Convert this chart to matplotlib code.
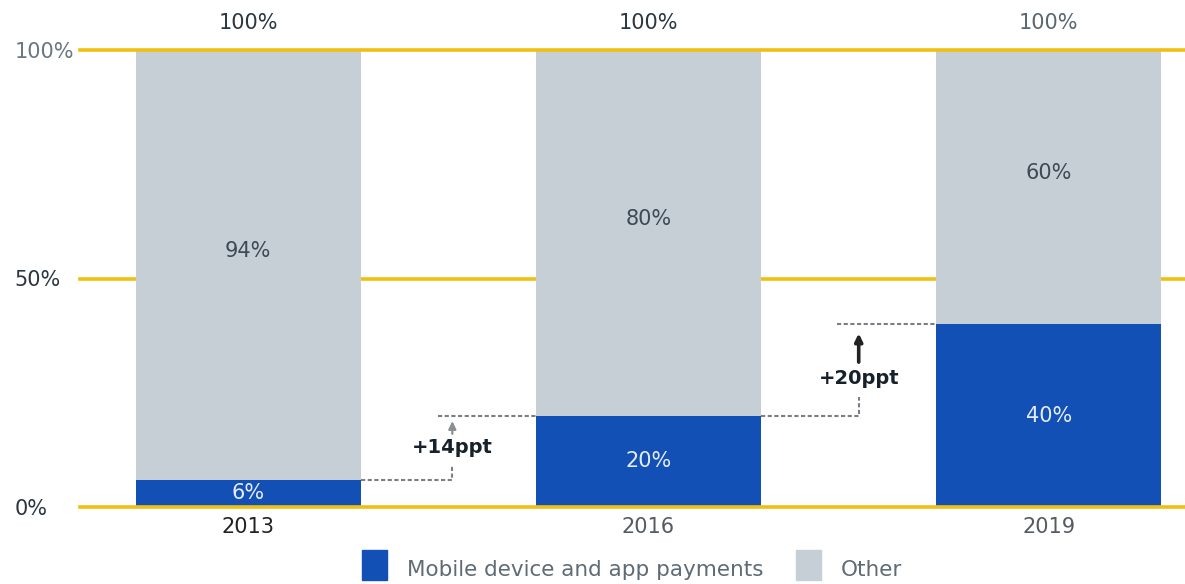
import matplotlib.pyplot as plt

plt.rcParams['font.family'] = ['DejaVu Sans']

years = ["2013", "2016", "2019"]
mobile = [6, 20, 40]
other = [94, 80, 60]
totals = [100, 100, 100]
changes = ["+14ppt", "+20ppt"]
y_ticks = [0, 50, 100]
y_labels = ["0%", "50%", "100%"]

BLUE = "#1250b6"
GREY = "#c6cfd6"
GOLD = "#f0c010"
DARK = "#2b3640"

fig = plt.figure(figsize=(11.85, 5.84), dpi=100)
ax = fig.add_axes([80 / 1185, 1 - 507 / 584, 1 - 80 / 1185, (507 - 50) / 584])

x = list(range(len(years)))
w = 0.5625
ax.bar(x, mobile, width=w, color=BLUE, zorder=2)
ax.bar(x, other, width=w, bottom=mobile, color=GREY, zorder=2)

# gold guide lines; the middle one sits behind the bars
for t in y_ticks:
    ax.axhline(t, color=GOLD, lw=2.6, zorder=1 if t == 50 else 3, clip_on=False)

for i in x:
    ax.text(i, mobile[i] / 2, f"{mobile[i]}%", ha="center", va="center",
            fontsize=15, color="#e6ecf5", zorder=4)
    ax.text(i, mobile[i] + other[i] / 2 + 3, f"{other[i]}%", ha="center", va="center",
            fontsize=15, color="#3d4a56", zorder=4)
    ax.text(i, totals[i] + 6, f"{totals[i]}%", ha="center", va="center",
            fontsize=15, color=DARK if i < 2 else "#5a6670")

# step-up connectors between consecutive bars
arrow_cols = ["#8a8f94", "#222222"]
for k, lab in enumerate(changes):
    lo, hi = mobile[k], mobile[k + 1]
    xs = k + w / 2
    xt = k + 0.51 + 0.015 * k
    ax.plot([xs, xt, xt], [lo, lo, lo + 3 + 1.0 * k], color="#7a7f85", lw=1.5,
            ls=(0, (2, 1.2)), zorder=3)
    ax.plot([xt - 0.035 - 0.02 * k, k + 1 - w / 2], [hi, hi], color="#7a7f85", lw=1.5,
            ls=(0, (2, 1.2)), zorder=3)
    mid = (lo + hi) / 2 - 1.8 * k
    ax.text(xt, mid, lab, ha="center", va="center", fontsize=14,
            fontweight="bold", color="#17212b", zorder=4)
    ax.annotate("", xy=(xt, hi - 1.2 - 0.8 * k), xytext=(xt, mid + 3 + 0.5 * k),
                arrowprops=dict(arrowstyle="-|>,head_length=0.45,head_width=0.22",
                                color=arrow_cols[k], lw=1.6 + 1.0 * k,
                                shrinkA=0, shrinkB=0))

ax.set_xlim(-0.42, 2.34)
ax.set_ylim(0, 100)
ax.set_xticks(x)
ax.set_xticklabels(years, fontsize=15)
for i, lbl in enumerate(ax.get_xticklabels()):
    lbl.set_color("#222222" if i == 0 else "#555b60")
ax.tick_params(axis="x", length=0, pad=7)

ax.set_yticks(y_ticks)
ax.set_yticklabels(y_labels, fontsize=15)
for lbl, c in zip(ax.get_yticklabels(), [DARK, DARK, "#6a7680"]):
    lbl.set_color(c)
    lbl.set_horizontalalignment("left")
ax.tick_params(axis="y", length=0, pad=47)

for s in ax.spines.values():
    s.set_visible(False)

# legend drawn by hand along the bottom
fig.patches.append(plt.Rectangle((362 / 1185, 1 - 580 / 584), 25 / 1185, 30 / 584,
                                 transform=fig.transFigure, color=BLUE))
fig.text(407 / 1185, 1 - 570 / 584, "Mobile device and app payments", fontsize=15.5,
         color="#5f6b75", va="center", ha="left")
fig.patches.append(plt.Rectangle((796 / 1185, 1 - 580 / 584), 25 / 1185, 30 / 584,
                                 transform=fig.transFigure, color=GREY))
fig.text(841 / 1185, 1 - 570 / 584, "Other", fontsize=15.5,
         color="#5f6b75", va="center", ha="left")

fig.savefig("out.png", dpi=100)
